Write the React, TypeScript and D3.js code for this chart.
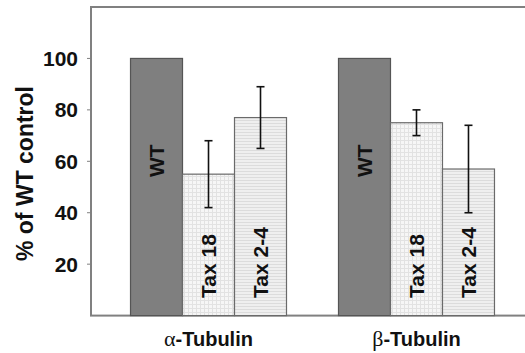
import * as d3 from 'd3';

const groups = ['α-Tubulin', 'β-Tubulin'];
const series = ['WT', 'Tax 18', 'Tax 2-4'];
const wtValues = [100, 100];
const tax18Values = [55, 75];
const tax24Values = [77, 57];
const tax18Errors = [13, 5];
const tax24Errors = [12, 17];
const yTicks = [20, 40, 60, 80, 100];

const W = 525;
const H = 353;
const left = 91;
const right = 534;
const top = 7;
const bottom = 315.6;

const values: Record<string, number[]> = {
  WT: wtValues,
  'Tax 18': tax18Values,
  'Tax 2-4': tax24Values,
};
const errors: Record<string, number[] | null> = {
  WT: null,
  'Tax 18': tax18Errors,
  'Tax 2-4': tax24Errors,
};
const fills: Record<string, string> = {
  WT: '#7f7f7f',
  'Tax 18': 'url(#gridPat)',
  'Tax 2-4': 'url(#hPat)',
};

const App = () => {
  const x0 = d3.scaleBand().domain(groups).range([left, right]).paddingInner(0.25).paddingOuter(0.19);
  const x1 = d3.scaleBand().domain(series).range([0, x0.bandwidth()]);
  const y = d3.scaleLinear().domain([0, 120]).range([bottom, top]);
  const font = 'Liberation Sans, Arial, sans-serif';

  return (
    <svg width={W} height={H} style={{position: 'absolute', left: 0, top: 0}} fontFamily={font}>
      <defs>
        <pattern id="gridPat" width="4" height="4" patternUnits="userSpaceOnUse">
          <rect width="4" height="4" fill="#f6f6f6" />
          <path d="M0 0.5H4M0.5 0V4" stroke="#e2e2e2" strokeWidth="1" />
        </pattern>
        <pattern id="hPat" width="4" height="3" patternUnits="userSpaceOnUse">
          <rect width="4" height="3" fill="#efefef" />
          <path d="M0 0.5H4" stroke="#dcdcdc" strokeWidth="1" />
        </pattern>
      </defs>
      <rect width={W} height={H} fill="#fff" />
      {/* frame */}
      <rect x={left} y={top} width={right - left} height={bottom - top} fill="none" stroke="#808080" strokeWidth={2} />

      {/* y ticks */}
      {yTicks.map((t) => (
        <g key={t}>
          <line x1={left - 4} x2={left} y1={y(t)} y2={y(t)} stroke="#808080" strokeWidth={1} />
          <text x={78} y={y(t)} dy="0.36em" textAnchor="end" fontSize={21} fontWeight="bold" fill="#111">
            {t}
          </text>
        </g>
      ))}
      <text
        transform={`translate(33,173.5) rotate(-90)`}
        textAnchor="middle"
        fontSize={23}
        fontWeight="bold"
        fill="#111"
      >
        % of WT control
      </text>

      {/* bars */}
      {groups.map((g, gi) => (
        <g key={g}>
          {series.map((s) => {
            const bx = x0(g)! + x1(s)!;
            const bw = x1.bandwidth();
            const v = values[s][gi];
            const cx = bx + bw / 2;
            const err = errors[s];
            return (
              <g key={s}>
                <rect
                  x={bx}
                  y={y(v)}
                  width={bw}
                  height={bottom - y(v)}
                  fill={fills[s]}
                  stroke={s === 'WT' ? '#555' : '#6a6a6a'}
                  strokeWidth={1.2}
                />
                {err && (
                  <g stroke="#111" strokeWidth={1.6}>
                    <line x1={cx} x2={cx} y1={y(v + err[gi])} y2={y(v - err[gi])} />
                    <line x1={cx - 4} x2={cx + 4} y1={y(v + err[gi])} y2={y(v + err[gi])} />
                    <line x1={cx - 4} x2={cx + 4} y1={y(v - err[gi])} y2={y(v - err[gi])} />
                  </g>
                )}
                <text
                  transform={`translate(${cx + 7.5},${s === 'WT' ? 177 : 298}) rotate(-90)`}
                  fontSize={21}
                  fontWeight="bold"
                  fill="#111"
                >
                  {s}
                </text>
              </g>
            );
          })}
          <text x={x0(g)! + x0.bandwidth() / 2} y={346} textAnchor="middle" fontSize={20} fill="#111">
            <tspan fontFamily="Liberation Serif, Times New Roman, serif" fontSize={22}>
              {g.charAt(0)}
            </tspan>
            <tspan fontWeight="bold">{g.slice(1)}</tspan>
          </text>
        </g>
      ))}
    </svg>
  );
};

export default App;
